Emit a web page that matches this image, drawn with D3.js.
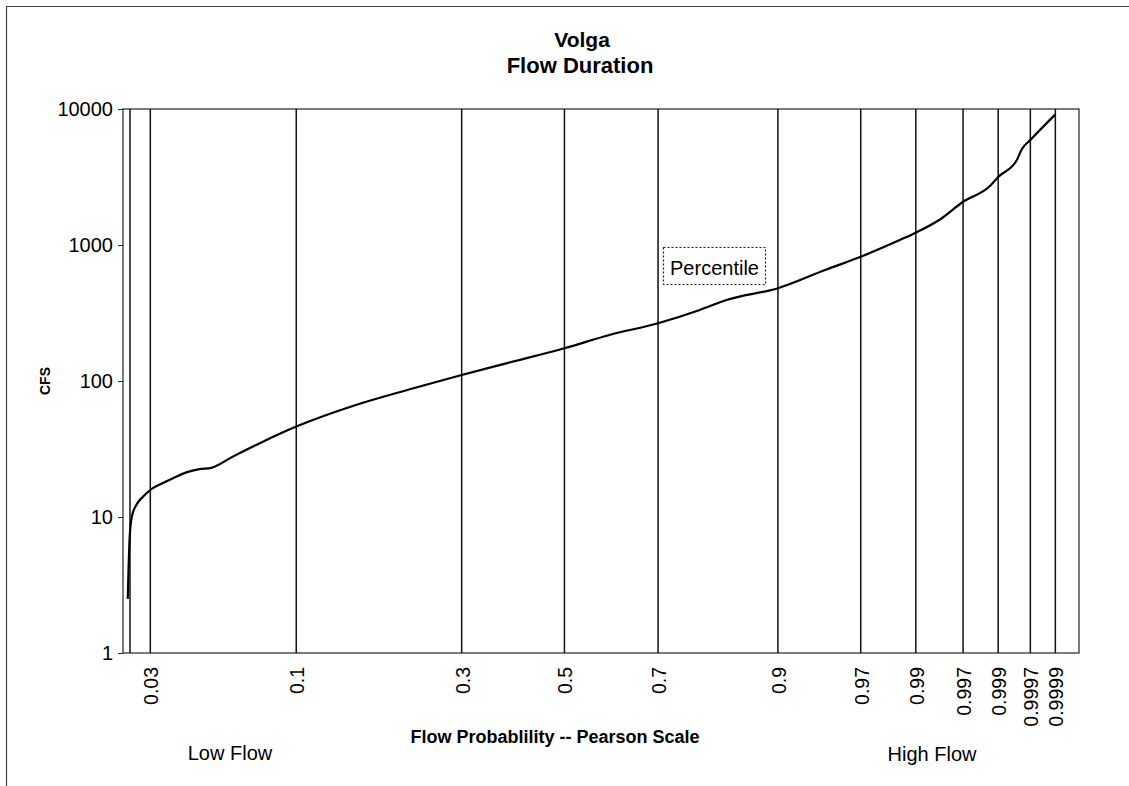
<!DOCTYPE html>
<html>
<head>
<meta charset="utf-8">
<script src="https://cdn.jsdelivr.net/npm/d3@7"></script>
<style>
  html, body { margin: 0; padding: 0; background: #fff; }
  svg { display: block; }
  text { font-family: "Liberation Sans", Arial, sans-serif; fill: #000; }
</style>
</head>
<body>
<svg id="chart" width="1129" height="786"></svg>
<script>
// ---------------- data ----------------
const titleLines = ["Volga", "Flow Duration"];
const yAxisTitle = "CFS";
const xAxisTitle = "Flow Probablility -- Pearson Scale";
const lowLabel = "Low Flow";
const highLabel = "High Flow";
const seriesLabel = "Percentile";

// vertical grid lines (probabilities) and their labels
const gridProbs  = [0.025, 0.03, 0.1, 0.3, 0.5, 0.7, 0.9, 0.97, 0.99, 0.997, 0.999, 0.9997, 0.9999];
const gridLabels = ["", "0.03", "0.1", "0.3", "0.5", "0.7", "0.9", "0.97", "0.99", "0.997", "0.999", "0.9997", "0.9999"];

// y axis ticks
const yTicks = [1, 10, 100, 1000, 10000];

// flow duration curve: exceedance probability and flow (cfs)
const flowProb = [0.0245, 0.0249, 0.0254, 0.0265, 0.0281, 0.03, 0.0355, 0.0411, 0.046, 0.0508,
                  0.0607, 0.0773, 0.1, 0.154, 0.22, 0.3, 0.381, 0.5, 0.597, 0.7,
                  0.781, 0.827, 0.9, 0.9477, 0.97, 0.9858, 0.99, 0.9944, 0.997, 0.99867,
                  0.999, 0.99949, 0.99958, 0.9997, 0.9999];
const flowCFS  = [2.5, 6.8, 10.0, 12.3, 14.1, 15.8, 18.7, 21.3, 22.5, 23.0,
                  27.8, 35.8, 46.2, 66.6, 86.9, 110.7, 134.8, 174, 218, 266,
                  333, 394, 481, 660, 820, 1088, 1232, 1540, 2080, 2700,
                  3165, 4220, 5080, 5920, 9130];

// probability range of the x axis
const xDomainProb = [0.02346, 0.99997];
const yDomain = [1, 10000];
const pearsonSkew = -0.53;

// ---------------- Pearson (type III) probability transform ----------------
function normInv(p) {
  const a = [-3.969683028665376e+01, 2.209460984245205e+02, -2.759285104469687e+02,
             1.383577518672690e+02, -3.066479806614716e+01, 2.506628277459239e+00];
  const b = [-5.447609879822406e+01, 1.615858368580409e+02, -1.556989798598866e+02,
             6.680131188771972e+01, -1.328068155288572e+01];
  const c = [-7.784894002430293e-03, -3.223964580411365e-01, -2.400758277161838e+00,
             -2.549671843263741e+00, 4.374664141464968e+00, 2.938163982698783e+00];
  const d = [7.784695709041462e-03, 3.224671290700398e-01, 2.445134137142996e+00,
             3.754408661907416e+00];
  const plow = 0.02425, phigh = 1 - plow;
  let q, r;
  if (p < plow) {
    q = Math.sqrt(-2 * Math.log(p));
    return (((((c[0]*q+c[1])*q+c[2])*q+c[3])*q+c[4])*q+c[5]) /
           ((((d[0]*q+d[1])*q+d[2])*q+d[3])*q+1);
  } else if (p <= phigh) {
    q = p - 0.5; r = q*q;
    return (((((a[0]*r+a[1])*r+a[2])*r+a[3])*r+a[4])*r+a[5])*q /
           (((((b[0]*r+b[1])*r+b[2])*r+b[3])*r+b[4])*r+1);
  } else {
    q = Math.sqrt(-2 * Math.log(1 - p));
    return -(((((c[0]*q+c[1])*q+c[2])*q+c[3])*q+c[4])*q+c[5]) /
            ((((d[0]*q+d[1])*q+d[2])*q+d[3])*q+1);
  }
}
function pearsonK(p) {
  const g = pearsonSkew;
  const z = normInv(p);
  const c = 1 + g * z / 6 - g * g / 36;
  return (2 / g) * (Math.pow(c, 3) - 1);
}

// ---------------- layout ----------------
const svg = d3.select("#chart");
const plot = { left: 123, top: 109, right: 1079, bottom: 653 };

const xK = d3.scaleLinear()
  .domain(xDomainProb.map(pearsonK))
  .range([plot.left, plot.right]);
const x = p => xK(pearsonK(p));
const y = d3.scaleLog().domain(yDomain).range([plot.bottom, plot.top]);

// outer frame (scanned page shows top and left edges)
svg.append("path")
  .attr("d", "M6.5,786 L6.5,6.5 L1129,6.5")
  .attr("fill", "none").attr("stroke", "#444").attr("stroke-width", 1.2);

// plot area border
svg.append("rect")
  .attr("x", plot.left).attr("y", plot.top)
  .attr("width", plot.right - plot.left).attr("height", plot.bottom - plot.top)
  .attr("fill", "none").attr("stroke", "#222").attr("stroke-width", 1.2);

// vertical grid lines
svg.append("g").selectAll("line")
  .data(gridProbs)
  .join("line")
  .attr("x1", d => x(d)).attr("x2", d => x(d))
  .attr("y1", plot.top).attr("y2", plot.bottom)
  .attr("stroke", "#111").attr("stroke-width", 1.5);

// x tick labels (rotated)
svg.append("g").selectAll("text")
  .data(gridProbs.map((p, i) => ({ p, label: gridLabels[i] })).filter(d => d.label))
  .join("text")
  .attr("transform", d => `translate(${x(d.p) + 1},${plot.bottom + 14}) rotate(-90)`)
  .attr("text-anchor", "end")
  .attr("dominant-baseline", "central")
  .attr("font-size", 19.5)
  .text(d => d.label);

// y axis
const yAxis = d3.axisLeft(y)
  .tickValues(yTicks)
  .tickFormat(d3.format("d"))
  .tickSize(5)
  .tickPadding(5);
const gy = svg.append("g")
  .attr("transform", `translate(${plot.left},0)`)
  .call(yAxis);
gy.select(".domain").remove();
gy.selectAll(".tick line").attr("stroke", "#222");
gy.selectAll(".tick text")
  .attr("font-size", 20)
  .attr("font-family", "Liberation Sans, Arial, sans-serif")
  .attr("fill", "#000");

// flow duration curve
const line = d3.line()
  .x(d => x(d[0]))
  .y(d => y(d[1]))
  .curve(d3.curveMonotoneX);
svg.append("path")
  .datum(flowProb.map((p, i) => [p, flowCFS[i]]))
  .attr("d", line)
  .attr("fill", "none")
  .attr("stroke", "#000")
  .attr("stroke-width", 2.2)
  .attr("stroke-linejoin", "round");

// series label with dotted box
const lab = svg.append("g").attr("transform", "translate(663.5,247.5)");
lab.append("rect")
  .attr("width", 102).attr("height", 37)
  .attr("fill", "#fff").attr("stroke", "#222")
  .attr("stroke-width", 1.2).attr("stroke-dasharray", "2,2");
lab.append("text")
  .attr("x", 51).attr("y", 27)
  .attr("text-anchor", "middle")
  .attr("font-size", 20)
  .text(seriesLabel);

// titles
svg.append("text")
  .attr("x", 582).attr("y", 47)
  .attr("text-anchor", "middle")
  .attr("font-size", 21).attr("font-weight", "bold")
  .text(titleLines[0]);
svg.append("text")
  .attr("x", 580).attr("y", 73)
  .attr("text-anchor", "middle")
  .attr("font-size", 22).attr("font-weight", "bold")
  .text(titleLines[1]);

// axis titles
svg.append("text")
  .attr("transform", `translate(45,${(plot.top + plot.bottom) / 2}) rotate(-90)`)
  .attr("text-anchor", "middle")
  .attr("dominant-baseline", "central")
  .attr("font-size", 14).attr("font-weight", "bold")
  .text(yAxisTitle);
svg.append("text")
  .attr("x", 555).attr("y", 743)
  .attr("text-anchor", "middle")
  .attr("font-size", 18).attr("font-weight", "bold")
  .text(xAxisTitle);

// low / high flow notes
svg.append("text")
  .attr("x", 230).attr("y", 760)
  .attr("text-anchor", "middle")
  .attr("font-size", 20)
  .text(lowLabel);
svg.append("text")
  .attr("x", 932).attr("y", 761)
  .attr("text-anchor", "middle")
  .attr("font-size", 20)
  .text(highLabel);
</script>
</body>
</html>
